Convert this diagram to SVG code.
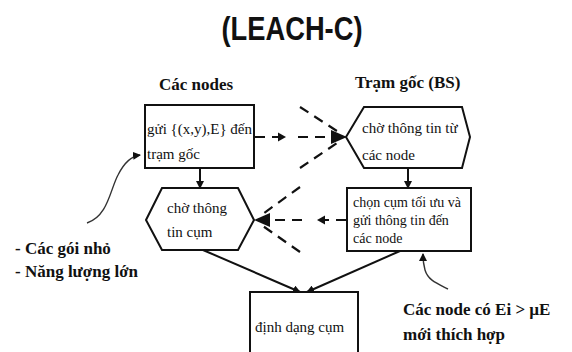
<svg xmlns="http://www.w3.org/2000/svg" width="572" height="352" viewBox="0 0 572 352">
<defs>
<style>
.box{fill:#fff;stroke:#111;stroke-width:2}
.t{font-family:'Liberation Serif','DejaVu Serif',serif;fill:#111}
.h{font-family:'Liberation Serif','DejaVu Serif',serif;font-size:17px;font-weight:bold;fill:#111}
.ln{fill:none;stroke:#111;stroke-width:2}
.ds{fill:none;stroke:#111;stroke-width:2.2;stroke-dasharray:10,7}
.cv{fill:none;stroke:#333;stroke-width:1.4}
.ah{fill:#111}
</style>
<marker id="arr" markerWidth="8" markerHeight="8" refX="7" refY="4" orient="auto" markerUnits="userSpaceOnUse">
<path d="M0,0 L8,4 L0,8 Z" fill="#111"/>
</marker>
</defs>
<rect width="572" height="352" fill="#fff"/>
<text x="292" y="40" text-anchor="middle" font-family="'Liberation Sans',Arial,sans-serif" font-weight="bold" font-size="33" textLength="141" lengthAdjust="spacingAndGlyphs" fill="#111">(LEACH-C)</text>
<text class="h" x="159" y="90">Các nodes</text>
<text class="h" x="355" y="88">Trạm gốc (BS)</text>
<g id="n1"><rect class="box" x="145" y="105" width="109" height="63"/><text class="t" x="147" y="134" font-size="15">gửi {(x,y),E} đến</text><text class="t" x="147" y="159" font-size="15">trạm gốc</text></g>
<g id="n2"><polygon class="box" points="346,137 364,107 462,107 470,137 462,168 364,168"/><text class="t" x="362" y="133" font-size="15">chờ thông tin từ</text><text class="t" x="362" y="160" font-size="15">các node</text></g>
<g id="n3"><rect class="box" x="347" y="188" width="124" height="63"/><text class="t" x="353" y="207" font-size="14">chọn cụm tối ưu và</text><text class="t" x="353" y="225" font-size="14">gửi thông tin đến</text><text class="t" x="353" y="243" font-size="14">các node</text></g>
<g id="n4"><polygon class="box" points="146,220 162,188 238,188 254,220 238,250 162,250"/><text class="t" x="167" y="213" font-size="15">chờ thông</text><text class="t" x="167" y="237" font-size="15">tin cụm</text></g>
<g id="n5"><rect class="box" x="250" y="292" width="108" height="70"/><text class="t" x="255" y="332" font-size="15">định dạng cụm</text></g>
<g id="connectors">
<line class="ln" x1="200" y1="168" x2="200" y2="188" marker-end="url(#arr)"/>
<line class="ln" x1="408" y1="168" x2="408" y2="188" marker-end="url(#arr)"/>
<line class="ln" x1="203" y1="250" x2="300" y2="292" marker-end="url(#arr)"/>
<line class="ln" x1="400" y1="251" x2="307" y2="292" marker-end="url(#arr)"/>
<line class="ds" x1="255" y1="137" x2="279" y2="137" stroke-dasharray="9,5"/>
<polygon class="ah" points="278,132.5 286,137 278,141.5"/>
<line class="ds" x1="298" y1="137" x2="334" y2="137"/>
<line class="ds" x1="300" y1="107" x2="340" y2="133"/>
<line class="ds" x1="300" y1="168" x2="340" y2="141"/>
<polygon class="ah" points="331,130 347,137 331,144"/>
<line class="ds" x1="346" y1="220" x2="323" y2="220" stroke-dasharray="9,5"/>
<polygon class="ah" points="325,215.5 317,220 325,224.5"/>
<line class="ds" x1="302" y1="220" x2="268" y2="220"/>
<line class="ds" x1="300" y1="187" x2="260" y2="216"/>
<line class="ds" x1="300" y1="252" x2="260" y2="224"/>
<polygon class="ah" points="270,213 254,220 270,227"/>
<path class="cv" d="M87,223 C108,216 110,190 118,175 C124,163 132,156 140,155" marker-end="url(#arr)"/>
<path class="cv" d="M448,289 C436,283 428,280 425,270 C423,263 423,259 423,254" marker-end="url(#arr)"/>
</g>
<text class="h" x="15" y="254">- Các gói nhỏ</text>
<text class="h" x="15" y="277">- Năng lượng lớn</text>
<text class="h" x="403" y="315">Các node có Ei &gt; µE</text>
<text class="h" x="403" y="340">mới thích hợp</text>
</svg>
